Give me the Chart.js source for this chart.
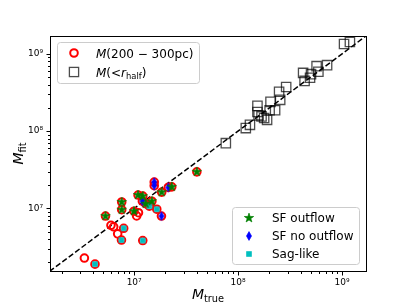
<!DOCTYPE html>
<html>
<head>
<meta charset="utf-8">
<script src="https://cdn.jsdelivr.net/npm/chart.js@4.4.0/dist/chart.umd.min.js"></script>
<style>
  html, body { margin: 0; padding: 0; background: #fff; }
</style>
</head>
<body>
<canvas id="chart" width="407" height="305"></canvas>
<script>
// M(200-300pc): true vs fitted mass, one entry per galaxy
const shellTrue = [3.32e6, 4.20e6, 5.30e6, 5.98e6, 6.35e6, 6.94e6, 7.93e6, 7.55e6, 7.59e6, 7.59e6,
                   9.96e6, 1.057e7, 1.10e7, 1.09e7, 1.21e7, 1.20e7, 1.21e7, 1.29e7, 1.40e7, 1.48e7,
                   1.56e7, 1.56e7, 1.65e7, 1.84e7, 1.83e7, 2.13e7, 2.30e7, 4.01e7];
const shellFit  = [2.28e6, 1.90e6, 7.96e6, 6.05e6, 5.78e6, 4.69e6, 5.53e6, 3.90e6, 1.21e7, 9.62e6,
                   9.2e6, 8.0e6, 8.8e6, 1.49e7, 1.44e7, 1.24e7, 3.84e6, 1.15e7, 1.07e7, 1.24e7,
                   2.19e7, 1.97e7, 9.77e6, 1.62e7, 7.96e6, 1.87e7, 1.90e7, 2.97e7];
// 'out' = SF outflow, 'noout' = SF no outflow, 'sag' = Sag-like, '' = unmarked
const shellKind = ['', 'sag', 'out', '', '', '', 'sag', 'sag', 'out', 'out',
                   'out', '', '', 'out', 'out', 'noout', 'sag', 'out', 'sag', 'out',
                   'noout', 'noout', 'sag', 'out', 'noout', 'noout', 'out', 'out'];

// M(<r_half)
const halfTrue = [7.62e7, 1.186e8, 1.30e8, 1.535e8, 1.535e8, 1.574e8, 1.68e8, 1.78e8, 1.90e8, 2.01e8,
                  2.05e8, 2.27e8, 2.48e8, 2.54e8, 2.90e8, 4.22e8, 4.36e8, 4.92e8, 5.03e8, 5.69e8,
                  5.92e8, 7.18e8, 1.045e9, 1.19e9];
const halfFit  = [6.98e7, 1.094e8, 1.205e8, 2.12e8, 1.77e8, 1.60e8, 1.55e8, 1.48e8, 1.40e8, 1.86e8,
                  2.39e8, 1.86e8, 3.23e8, 2.54e8, 3.72e8, 5.66e8, 4.46e8, 4.91e8, 5.45e8, 6.92e8,
                  5.87e8, 7.13e8, 1.34e9, 1.42e9];

const oneToOne = [1e6, 3e9];
const axisMin = 1.55e6;
const axisMax = 1.7e9;
const decades = [6, 7, 8, 9];

const pts = (xs, ys) => xs.map((v, i) => ({x: v, y: ys[i]}));
const shellOf = kind => shellTrue.map((v, i) => ({x: v, y: shellFit[i], k: shellKind[i]}))
  .filter(p => p.k === kind);

// all tick positions 1..9 x 10^n inside the axis range
const tickValues = [];
decades.forEach(e => {
  for (let m = 1; m <= 9; m++) {
    const v = m * Math.pow(10, e);
    if (v >= axisMin && v <= axisMax) tickValues.push(v);
  }
});
const isDecade = v => Math.abs(Math.log10(v) - Math.round(Math.log10(v))) < 1e-9;
const sup = {'6': '\u2076', '7': '\u2077', '8': '\u2078', '9': '\u2079'};
const tickLabel = v => isDecade(v) ? '10' + sup[String(Math.round(Math.log10(v)))] : '';

function markerCanvas(w, h, draw) {
  const c = document.createElement('canvas');
  c.width = w; c.height = h;
  draw(c.getContext('2d'), w / 2, h / 2);
  return c;
}

const starImg = markerCanvas(12, 12, (g, cx, cy) => {
  g.beginPath();
  for (let i = 0; i < 10; i++) {
    const r = i % 2 ? 1.9 : 4.9;
    const a = -Math.PI / 2 + i * Math.PI / 5;
    g.lineTo(cx + r * Math.cos(a), cy + r * Math.sin(a));
  }
  g.closePath();
  g.fillStyle = '#008000'; g.fill();
  g.strokeStyle = '#008000'; g.lineWidth = 0.7; g.stroke();
});

const diamondImg = markerCanvas(8, 12, (g, cx, cy) => {
  g.beginPath();
  g.moveTo(cx, cy - 4.4); g.lineTo(cx + 2.5, cy); g.lineTo(cx, cy + 4.4); g.lineTo(cx - 2.5, cy);
  g.closePath();
  g.fillStyle = '#0000ff'; g.fill();
  g.strokeStyle = '#0000ff'; g.lineWidth = 0.7; g.stroke();
});

const sagImg = markerCanvas(8, 8, (g, cx, cy) => {
  g.fillStyle = '#00bfbf';
  g.fillRect(cx - 2.8, cy - 2.8, 5.6, 5.6);
});

// draws a little mathtext-like run: [text, style] with style 'i' italic, 's' subscript
function mathRun(ctx, parts, x, y, size, dry) {
  let cx = x;
  parts.forEach(([t, s]) => {
    const fs = s === 's' ? size * 0.7 : size;
    ctx.font = (s === 'i' ? 'oblique ' : '') + fs + 'px "DejaVu Sans"';
    if (!dry) ctx.fillText(t, cx, y + (s === 's' ? size * 0.24 : 0));
    cx += ctx.measureText(t).width;
  });
  return cx - x;
}

function legendBox(ctx, x, y, w, h) {
  const r = 3;
  ctx.beginPath();
  ctx.moveTo(x + r, y);
  ctx.arcTo(x + w, y, x + w, y + h, r);
  ctx.arcTo(x + w, y + h, x, y + h, r);
  ctx.arcTo(x, y + h, x, y, r);
  ctx.arcTo(x, y, x + w, y, r);
  ctx.closePath();
  ctx.fillStyle = 'rgba(255,255,255,0.8)';
  ctx.fill();
  ctx.strokeStyle = '#cccccc';
  ctx.lineWidth = 1;
  ctx.stroke();
}

const decor = {
  id: 'decor',
  afterDraw(chart) {
    const {ctx, chartArea: a, scales: {x, y}} = chart;
    ctx.save();
    ctx.strokeStyle = '#000';
    ctx.lineWidth = 1;
    ctx.strokeRect(a.left + 0.5, a.top + 0.5, a.right - a.left, a.bottom - a.top);

    // outward ticks, major longer than minor
    ctx.beginPath();
    tickValues.forEach(v => {
      const len = isDecade(v) ? 3.5 : 2;
      const px = Math.round(x.getPixelForValue(v)) + 0.5;
      ctx.moveTo(px, a.bottom + 1); ctx.lineTo(px, a.bottom + 1 + len);
      const py = Math.round(y.getPixelForValue(v)) + 0.5;
      ctx.moveTo(a.left, py); ctx.lineTo(a.left - len, py);
    });
    ctx.stroke();

    ctx.fillStyle = '#000';
    ctx.textBaseline = 'alphabetic';
    // axis titles
    const xt = [['M', 'i'], ['true', 's']];
    const xw = mathRun(ctx, xt, 0, 0, 14, true);
    mathRun(ctx, xt, (a.left + a.right) / 2 - xw / 2, 299, 14);
    const yt = [['M', 'i'], ['fit', 's']];
    const yw = mathRun(ctx, yt, 0, 0, 14, true);
    ctx.save();
    ctx.translate(23, (a.top + a.bottom) / 2 + yw / 2);
    ctx.rotate(-Math.PI / 2);
    mathRun(ctx, yt, 0, 0, 14);
    ctx.restore();

    // legend: mass estimates
    legendBox(ctx, 57.5, 42.5, 142, 41);
    ctx.strokeStyle = '#ff0000'; ctx.lineWidth = 2;
    ctx.beginPath(); ctx.arc(74, 53, 3.8, 0, Math.PI * 2); ctx.stroke();
    ctx.strokeStyle = 'rgba(0,0,0,0.7)'; ctx.lineWidth = 1.3;
    ctx.strokeRect(74 - 4.6, 72 - 4.6, 9.2, 9.2);
    ctx.fillStyle = '#000';
    mathRun(ctx, [['M', 'i'], ['(200 \u2212 300pc)', '']], 96, 57.5, 12);
    mathRun(ctx, [['M', 'i'], ['(<', ''], ['r', 'i'], ['half', 's'], [')', '']], 96, 76.5, 12);

    // legend: galaxy classes
    legendBox(ctx, 232.5, 207.5, 127, 57);
    ctx.drawImage(starImg, 249 - 6, 218 - 6);
    ctx.drawImage(diamondImg, 249 - 4, 236 - 6);
    ctx.drawImage(sagImg, 249 - 4, 254 - 4);
    ctx.fillStyle = '#000';
    ctx.font = '12px "DejaVu Sans"';
    ctx.fillText('SF outflow', 272, 222);
    ctx.fillText('SF no outflow', 272, 240);
    ctx.fillText('Sag-like', 272, 258);
    ctx.restore();
  }
};

const logAxis = (fit, pad) => ({
  type: 'logarithmic',
  min: axisMin,
  max: axisMax,
  afterBuildTicks: s => { s.ticks = tickValues.map(v => ({value: v})); },
  afterFit: fit,
  grid: {display: false, drawTicks: false},
  border: {display: false},
  ticks: {
    autoSkip: false,
    maxRotation: 0,
    minRotation: 0,
    padding: pad,
    color: '#000',
    font: {family: 'DejaVu Sans', size: 9},
    callback: v => tickLabel(v)
  }
});

new Chart(document.getElementById('chart'), {
  type: 'scatter',
  data: {
    datasets: [
      {
        label: 'SF outflow',
        data: shellOf('out'),
        pointStyle: starImg,
        order: 1
      },
      {
        label: 'SF no outflow',
        data: shellOf('noout'),
        pointStyle: diamondImg,
        order: 1
      },
      {
        label: 'Sag-like',
        data: shellOf('sag'),
        pointStyle: sagImg,
        order: 1
      },
      {
        label: 'M(200-300pc)',
        data: pts(shellTrue, shellFit),
        pointStyle: 'circle',
        pointRadius: 3.8,
        borderColor: '#ff0000',
        backgroundColor: 'rgba(0,0,0,0)',
        borderWidth: 2,
        order: 2
      },
      {
        label: 'M(<r_half)',
        data: pts(halfTrue, halfFit),
        pointStyle: 'rect',
        pointRadius: 6.6,
        borderColor: 'rgba(0,0,0,0.7)',
        backgroundColor: 'rgba(0,0,0,0)',
        borderWidth: 1.3,
        order: 3
      },
      {
        label: 'one-to-one',
        data: oneToOne.map(v => ({x: v, y: v})),
        showLine: true,
        pointRadius: 0,
        borderColor: '#000',
        borderWidth: 1.5,
        borderDash: [5.5, 2.5],
        order: 4
      }
    ]
  },
  options: {
    responsive: false,
    animation: false,
    events: [],
    layout: {padding: {left: 0, top: 36, right: 41, bottom: 0}},
    plugins: {legend: {display: false}, tooltip: {enabled: false}},
    scales: {
      x: logAxis(s => { s.height = 34; }, 6),
      y: logAxis(s => { s.width = 50; }, 7)
    }
  },
  plugins: [decor]
});
</script>
</body>
</html>
